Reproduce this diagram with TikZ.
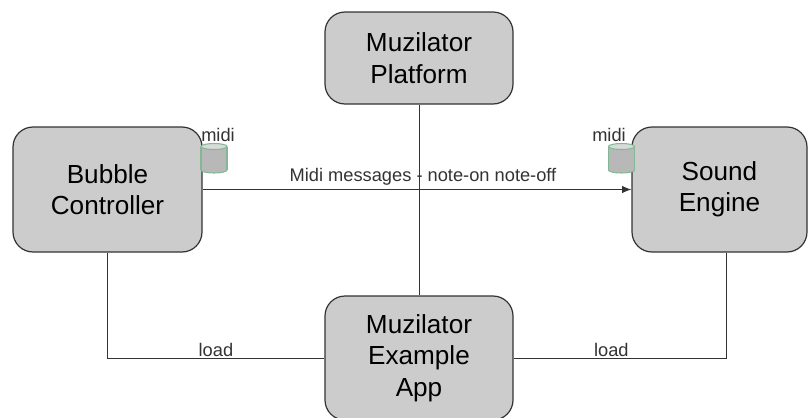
\documentclass[tikz,border=0pt]{standalone}
\usepackage{fontspec}
\setmainfont{Liberation Sans}
\usetikzlibrary{arrows.meta}

\definecolor{boxfill}{HTML}{CCCCCC}
\definecolor{boxline}{HTML}{333333}
\definecolor{dbline}{HTML}{82B895}
\definecolor{dbbody}{HTML}{B8B8B8}
\definecolor{dbtop}{HTML}{DADADA}
\definecolor{labgrey}{HTML}{333333}

\begin{document}
\begin{tikzpicture}[x=0.75pt,y=-0.75pt,text centered,
  block/.style={draw=boxline,fill=boxfill,rounded corners=15pt,line width=0.9pt,
    align=center,inner sep=0pt,font=\fontsize{19.6}{23.5}\selectfont},
  dbase/.style={draw=dbline,line width=0.8pt},
  lab/.style={text=labgrey,inner sep=1pt,font=\fontsize{13.7}{16}\selectfont},
  wire/.style={draw=boxline,line width=0.7pt}]
  \useasboundingbox (0,0) rectangle (808,418);

  \node (PLAT) at (419,58) [block,minimum width=141pt,minimum height=69pt] {Muzilator\\Platform};
  \node (BUBC) at (107.5,189.5) [block,minimum width=141.75pt,minimum height=93.75pt] {Bubble\\Controller};
  \node (SNDE) at (719.5,189.5) [block,minimum width=131.25pt,minimum height=93.75pt] {Sound\\Engine};
  \node (APPX) at (419,358) [block,minimum width=141pt,minimum height=93pt] {Muzilator\\Example\\App};

  % midi stores
  \foreach \cx/\nm in {214/DBL,621.5/DBR}{
    \coordinate (\nm) at (\cx,158);
    \fill[dbbody] (\cx-13,146.5) rectangle (\cx+13,170);
    \fill[dbbody] (\cx,170) ellipse [x radius=9.75pt,y radius=2.25pt];
    \begin{scope}
      \clip (\cx-15,170) rectangle (\cx+15,176);
      \draw[dbase] (\cx,170) ellipse [x radius=9.75pt,y radius=2.25pt];
    \end{scope}
    \draw[dbase] (\cx-13,146.5) -- (\cx-13,170) (\cx+13,146.5) -- (\cx+13,170);
    \draw[dbase,fill=dbtop] (\cx,146.5) ellipse [x radius=9.75pt,y radius=2.25pt];
  }
  \node (MIDL) at (218,135) [lab] {midi};
  \node (MIDR) at (609,135) [lab] {midi};

  \coordinate (SEB) at ([xshift=4.9pt]SNDE.south);

  \draw[wire] (PLAT) -- (APPX);
  \draw[wire,-{Latex[length=7pt,width=5.5pt]}] (BUBC) -- node[lab,above=2pt,xshift=4.5pt] {Midi messages - note-on note-off} (SNDE);
  \draw[wire] (BUBC.south) |- node[lab,pos=0.75,above] {load} (APPX.west);
  \draw[wire] (APPX.east) -| node[lab,pos=0.23,above] {load} (SEB);

\end{tikzpicture}
\end{document}
